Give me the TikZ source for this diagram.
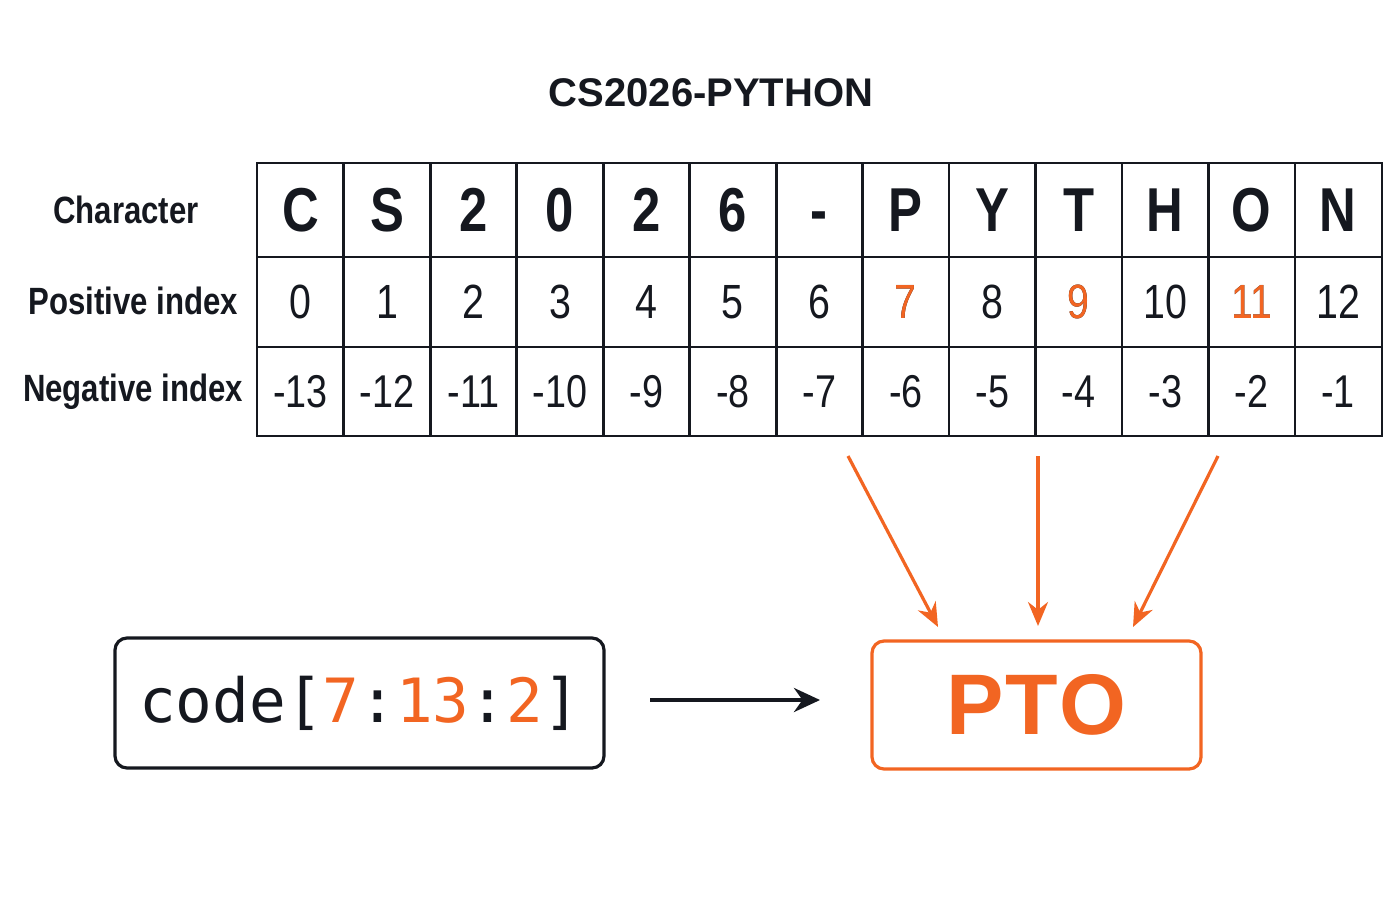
\documentclass[tikz,border=0pt]{standalone}
\usepackage{fontspec}
\setmainfont{Liberation Sans}
\newfontfamily\cond[FakeStretch=0.82]{Liberation Sans}
\newfontfamily\mono{DejaVu Sans Mono}
\usetikzlibrary{arrows.meta}
\definecolor{org}{HTML}{F26522}
\definecolor{ink}{HTML}{15181F}
\begin{document}
\begin{tikzpicture}[x=0.5pt,y=-0.5pt,
  cell/.style={draw=ink,line width=1.1pt,minimum width=43.5pt,minimum height=46pt,inner sep=0pt,anchor=north west,text=ink},
  lbl/.style={font=\cond\bfseries\fontsize{19}{22}\selectfont,text=ink},
  num/.style={font=\cond\fontsize{24}{28}\selectfont},
  oarr/.style={draw=org,line width=1.6pt,-{Stealth[length=12pt,width=10pt]}},
  box/.style={rounded corners=6pt,line width=1.6pt,inner sep=0pt}]
\useasboundingbox (0,0) rectangle (1400,900);
\node[font=\bfseries\fontsize{20}{24}\selectfont,text=ink] (title) at (711,93) {CS2026-PYTHON};
\foreach \c/\p/\n [count=\i from 0] in {C/0/-13,S/1/-12,2/2/-11,0/3/-10,2/4/-9,6/5/-8,-/6/-7,P/7/-6,Y/8/-5,T/9/-4,H/10/-3,O/11/-2,N/12/-1}{
  \pgfmathsetmacro\xx{256+\i*86.46}
  \node[cell,minimum height=47pt,font=\cond\bfseries\fontsize{31}{34}\selectfont] (c\i) at (\xx,162) {\vphantom{C}\c};
  \node[cell,minimum height=45pt,num] (p\i) at (\xx,256) {\p};
  \node[cell,minimum height=44.5pt,num,font=\cond\fontsize{23}{28}\selectfont] (n\i) at (\xx,346) {\n};
}
\foreach \i in {7,9,11}{\node[cell,minimum height=45pt,num,text=org] at (p\i.north west) {\i};}
\node[lbl] (lc) at (126,210) {Character};
\node[lbl] (lp) at (133,301) {Positive index};
\node[lbl] (ln) at (133,392) {Negative index};
\node[box,draw=ink,minimum width=244.5pt,minimum height=65pt] (code) at (359.5,703)
  {\mono\fontsize{30.5}{34}\selectfont\color{ink}code[\textcolor{org}{7}:\textcolor{org}{13}:\textcolor{org}{2}]};
\node[box,draw=org,minimum width=164.5pt,minimum height=64pt] (res) at (1036.5,705)
  {\bfseries\fontsize{43}{48}\selectfont\color{org}P\kern1pt T\kern1pt O};
\draw[line width=2pt,draw=ink,-{Stealth[length=13pt,width=12pt]}] (650,700) -- (820,700);
\coordinate (a1) at (848,456); \coordinate (a2) at (1038,456); \coordinate (a3) at (1218,456);
\coordinate (b1) at (938,627); \coordinate (b2) at (1038,626); \coordinate (b3) at (1133,627);
\draw[oarr] (a1) -- (b1);
\draw[oarr] (a2) -- (b2);
\draw[oarr] (a3) -- (b3);
\end{tikzpicture}
\end{document}
